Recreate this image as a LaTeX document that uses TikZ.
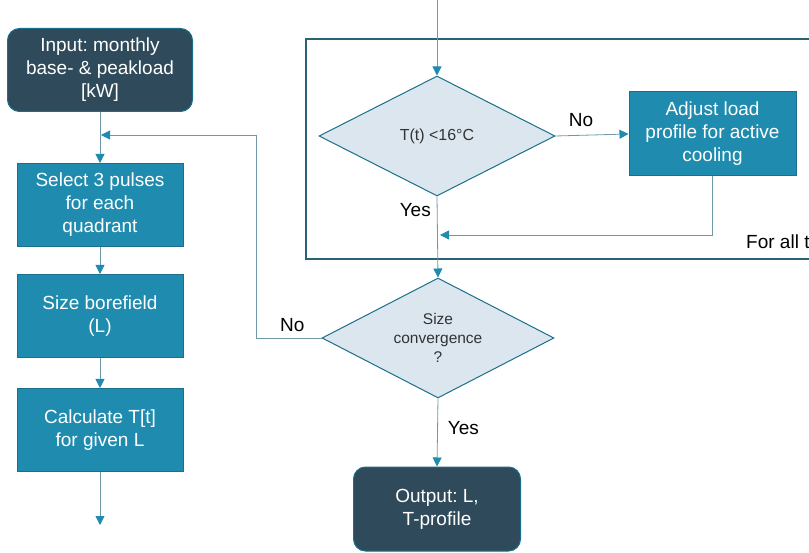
\documentclass[tikz,border=0pt]{standalone}
\usepackage{fontspec}
\setmainfont{Liberation Sans}
\frenchspacing
\usetikzlibrary{shapes.geometric, arrows.meta, positioning, calc}
\definecolor{darkslate}{HTML}{2F4A5A}
\definecolor{tealbox}{HTML}{1F8BAE}
\definecolor{tealedge}{HTML}{1B6F8B}
\definecolor{framecol}{HTML}{2A6377}
\definecolor{palediamond}{HTML}{DCE6EF}
\definecolor{flowline}{HTML}{6F98A8}
\tikzset{
  basenode/.style = {align=center, inner sep=2pt, text centered, font=\fontsize{19}{23}\selectfont},
  io_box/.style = {basenode, rectangle, rounded corners=12pt, white, draw=tealedge, fill=darkslate, line width=1pt, minimum width=185pt, minimum height=83pt},
  proc_box/.style = {basenode, rectangle, white, draw=tealedge, fill=tealbox, line width=1pt, minimum width=166pt, minimum height=83pt},
  check_dia/.style = {basenode, diamond, aspect=2, black!80, draw=tealedge, fill=palediamond, line width=1pt, minimum width=236pt, minimum height=120pt},
  flow/.style = {draw=flowline, line width=0.8pt, -{Triangle[length=9pt, width=9pt, color=tealbox]}},
  lbl/.style = {font=\fontsize{19}{22}\selectfont, inner sep=1pt}
}
\begin{document}
\begin{tikzpicture}[x=1pt, y=-1pt]
  \useasboundingbox (0,0) rectangle (809,553);
  % loop over all timesteps
  \draw[framecol, line width=1.5pt] (306,39) rectangle (820,259);
  \node[lbl, anchor=west] (forall) at (745,242) {For all t};

  % left column
  \node[io_box] (input) at (100,70) {Input: monthly\\base- \& peakload\\{}[kW]};
  \node[proc_box] (select) at (100,205) {Select 3 pulses\\for each\\quadrant};
  \node[proc_box] (sizing) at (100,316) {Size borefield\\(L)};
  \node[proc_box] (calc) at (100,430) {Calculate T[t]\\for given L};
  \coordinate (calcend) at (100,525);
  \coordinate (merge) at (101,135);

  % right column
  \coordinate (entry) at (437,0);
  \node[check_dia, font=\fontsize{16}{19}\selectfont] (tcheck) at (437,136) {T(t) <16°C};
  \node[proc_box, minimum width=167pt, minimum height=84pt] (adjust) at (712.5,134) {Adjust load\\profile for active\\cooling};
  \coordinate (rejoin) at (440,235);
  \node[check_dia, minimum width=232pt, font=\fontsize{15.5}{19}\selectfont] (conv) at (438,338) {Size\\convergence\\?};
  \node[io_box, minimum width=167pt, minimum height=84pt] (output) at (437,509) {Output: L,\\T-profile};

  % connectors
  \draw[flow] (input) -- (select);
  \draw[flow] (select) -- (sizing);
  \draw[flow] (sizing) -- (calc);
  \draw[flow] (calc) -- (calcend);
  \draw[flow] (entry) -- (tcheck.north);
  \draw[flow] (tcheck.east) -- (adjust.west) node[lbl, pos=0.35, above=7pt] {No};
  \draw[flow] (adjust.south) |- (rejoin);
  \draw[flow] (tcheck.south) -- (conv.north) node[lbl, pos=0.17, left=5pt] {Yes};
  \draw[flow] (conv.west) -- ++(-65,0) node[lbl, pos=0.45, above=5pt] {No} |- (merge);
  \draw[flow] (conv.south) -- (output.north) node[lbl, pos=0.43, right=9pt] {Yes};
\end{tikzpicture}
\end{document}
